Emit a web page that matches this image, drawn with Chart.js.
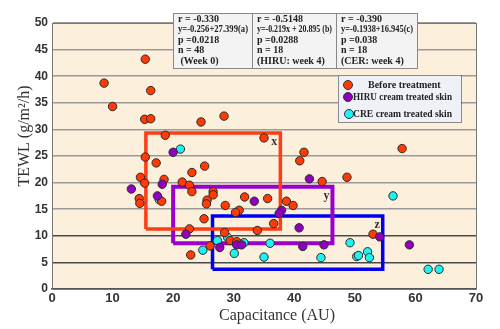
<!DOCTYPE html>
<html>
<head>
<meta charset="utf-8">
<script src="https://cdn.jsdelivr.net/npm/chart.js@4.4.1/dist/chart.umd.min.js"></script>
<style>
  html, body { margin: 0; padding: 0; background: #fff; }
  #wrap { width: 500px; height: 329px; }
</style>
</head>
<body>
<div id="wrap"><canvas id="myChart" width="500" height="329"></canvas></div>
<script>
// Before treatment (week 0)
const beforeX = [15.4, 8.6, 16.3, 10.0, 15.3, 16.3, 24.6, 28.4, 18.7, 35.0, 15.4, 17.2, 25.2, 23.1, 41.6, 40.9, 44.6, 48.7, 57.8, 14.6, 15.3, 18.5, 21.5, 22.7, 23.1, 26.6, 26.6, 14.4, 14.5, 18.1, 25.6, 25.5, 28.6, 31.8, 35.6, 38.7, 39.8, 30.9, 30.3, 25.1, 36.6, 22.7, 33.9, 28.5, 29.4, 30.5, 26.1, 22.9, 53.0];
const beforeY = [43.2, 38.7, 37.3, 34.3, 31.9, 32.0, 31.4, 32.5, 28.9, 28.4, 24.8, 23.7, 23.1, 21.9, 25.7, 24.1, 20.2, 21.0, 26.4, 21.0, 19.9, 20.6, 20.1, 19.5, 18.3, 18.3, 17.7, 17.0, 16.1, 16.5, 16.7, 16.0, 15.7, 17.3, 17.0, 16.5, 15.7, 14.8, 14.4, 13.2, 12.3, 11.3, 11.0, 10.6, 9.1, 8.9, 8.1, 6.4, 10.3];

// HIRU cream, week 4
const hiruX = [20.0, 42.5, 13.1, 18.2, 17.4, 33.4, 37.9, 37.5, 40.8, 22.1, 27.7, 30.5, 31.3, 41.4, 44.9, 54.1, 59.0];
const hiruY = [25.7, 20.7, 18.8, 19.7, 17.5, 16.5, 14.8, 14.2, 11.5, 10.3, 7.8, 8.3, 8.3, 8.0, 8.3, 9.8, 8.3];

// CER cream, week 4
const cerX = [21.2, 17.7, 27.3, 29.0, 31.7, 24.9, 30.1, 36.0, 35.0, 44.4, 56.3, 49.2, 50.3, 50.6, 52.1, 52.4, 62.1, 63.9];
const cerY = [26.3, 16.8, 9.1, 9.7, 8.7, 7.3, 6.7, 8.6, 6.0, 5.9, 17.5, 8.7, 6.1, 6.3, 7.0, 5.9, 3.7, 3.7];

// highlighted regions (x range, y range)
const boxXx = [15.5, 37.7], boxXy = [11.3, 29.3];
const boxYx = [20.0, 46.3], boxYy = [8.6, 19.2];
const boxZx = [26.5, 54.6], boxZy = [3.7, 13.7];
const boxLabels = ['x', 'y', 'z'];

const xTicks = [0, 10, 20, 30, 40, 50, 60, 70];
const yTicks = [0, 5, 10, 15, 20, 25, 30, 35, 40, 45, 50];

const statsCols = [
  ['r = -0.330', 'y=-0.256+27.399(a)', 'p =0.0218', 'n = 48', ' (Week 0)'],
  ['r = -0.5148', 'y=-0.219x + 20.895 (b)', 'p =0.0288', 'n = 18', '(HIRU: week 4)'],
  ['r = -0.390', 'y=-0.1938+16.945(c)', 'p =0.038', 'n = 18', '(CER: week 4)']
];
const legendLabels = ['Before treatment', 'HIRU cream treated skin', 'CRE cream treated skin'];

const RED = '#ff3a05', PURPLE = '#9200bf', CYAN = '#1ef2f2';

const pts = (xs, ys) => xs.map((x, i) => ({ x: x, y: ys[i] }));
const rect = (xr, yr) => [
  { x: xr[0], y: yr[0] }, { x: xr[1], y: yr[0] }, { x: xr[1], y: yr[1] },
  { x: xr[0], y: yr[1] }, { x: xr[0], y: yr[0] }
];

const boxes = [[boxXx, boxXy], [boxYx, boxYy], [boxZx, boxZy]];

const bgPlugin = {
  id: 'bg',
  beforeDraw(chart) {
    const { ctx, chartArea: a } = chart;
    ctx.save();
    ctx.fillStyle = '#fcf0dc';
    ctx.fillRect(a.left, a.top, a.width, a.height);
    ctx.restore();
  }
};

const overlayPlugin = {
  id: 'overlay',
  afterDraw(chart) {
    const { ctx, chartArea: a, scales } = chart;
    ctx.save();
    // frame
    ctx.strokeStyle = '#777';
    ctx.lineWidth = 1;
    ctx.strokeRect(a.left + 0.5, a.top + 0.5, a.width, a.height);

    // box letters
    ctx.fillStyle = '#333';
    ctx.font = 'bold 12px "Liberation Serif"';
    ctx.textAlign = 'right';
    ctx.textBaseline = 'middle';
    boxes.forEach((b, i) => {
      const px = scales.x.getPixelForValue(b[0][1]);
      const py = scales.y.getPixelForValue(b[1][1]);
      ctx.fillText(boxLabels[i], px - 3, py + 9);
    });

    // stats table
    const tl = 173, tt = 13, tr = 417, tb = 68, cols = [173, 252, 336, 417];
    ctx.fillStyle = '#f3f3f3';
    ctx.fillRect(tl, tt, tr - tl, tb - tt);
    ctx.strokeStyle = '#888';
    ctx.lineWidth = 1;
    ctx.strokeRect(tl + 0.5, tt + 0.5, tr - tl, tb - tt);
    ctx.beginPath();
    ctx.moveTo(cols[1] + 0.5, tt); ctx.lineTo(cols[1] + 0.5, tb);
    ctx.moveTo(cols[2] + 0.5, tt); ctx.lineTo(cols[2] + 0.5, tb);
    ctx.stroke();
    ctx.fillStyle = '#222';
    ctx.font = 'bold 10px "Liberation Serif"';
    ctx.textAlign = 'left';
    statsCols.forEach((col, c) => {
      const maxW = cols[c + 1] - cols[c] - 9;
      col.forEach((line, i) => {
        ctx.fillText(line, cols[c] + 5, 19.5 + i * 10.4, Math.min(maxW, ctx.measureText(line).width));
      });
    });

    // legend
    const ll = 338, lt = 75, lr = 461, lb = 122;
    ctx.fillStyle = '#eef1f6';
    ctx.fillRect(ll, lt, lr - ll, lb - lt);
    ctx.setLineDash([1, 1]);
    ctx.strokeStyle = '#223';
    ctx.strokeRect(ll + 0.5, lt + 0.5, lr - ll, lb - lt);
    ctx.setLineDash([]);
    const mk = [[348, 85, RED, 368], [348, 97, PURPLE, 353], [349, 114, CYAN, 353]];
    ctx.font = 'bold 10px "Liberation Serif"';
    mk.forEach((m, i) => {
      ctx.beginPath();
      ctx.arc(m[0], m[1], 4.5, 0, Math.PI * 2);
      ctx.fillStyle = m[2];
      ctx.fill();
      ctx.strokeStyle = '#333';
      ctx.stroke();
      ctx.fillStyle = '#222';
      const w = ctx.measureText(legendLabels[i]).width;
      ctx.fillText(legendLabels[i], m[3], m[1] + 0.5, Math.min(w, 452 - m[3]));
    });

    // axis titles
    ctx.fillStyle = '#333';
    ctx.font = '16px "Liberation Serif"';
    ctx.textAlign = 'center';
    ctx.fillText('Capacitance (AU)', 277, 316);
    ctx.translate(25, 136);
    ctx.rotate(-Math.PI / 2);
    ctx.fillText('TEWL (g/m\u00b2/h)', 0, 0);
    ctx.restore();
  }
};

const pointStyle = (color) => ({
  backgroundColor: color,
  borderColor: '#2a2a2a',
  borderWidth: 1,
  pointRadius: 4.2,
  showLine: false
});

const boxColors = ['#ff3c14', '#9a00cc', '#0000f0'];
const boxWidths = [3.5, 4, 3.5];

const ctx = document.getElementById('myChart');
new Chart(ctx, {
  type: 'scatter',
  data: {
    datasets: [
      Object.assign({ label: 'HIRU cream treated skin', data: pts(hiruX, hiruY), order: 0 }, pointStyle(PURPLE)),
      Object.assign({ label: 'Before treatment', data: pts(beforeX, beforeY), order: 1 }, pointStyle(RED)),
      Object.assign({ label: 'CRE cream treated skin', data: pts(cerX, cerY), order: 2 }, pointStyle(CYAN))
    ].concat(boxes.map((b, i) => ({
      label: 'box ' + boxLabels[i],
      data: rect(b[0], b[1]),
      showLine: true,
      borderColor: boxColors[i],
      borderWidth: boxWidths[i],
      pointRadius: 0,
      fill: false,
      tension: 0,
      order: 3
    })))
  },
  options: {
    responsive: false,
    animation: false,
    layout: { padding: { left: 0, top: 23, right: 24, bottom: 0 } },
    plugins: { legend: { display: false }, tooltip: { enabled: false } },
    scales: {
      x: {
        type: 'linear', min: 0, max: 70,
        afterBuildTicks: s => { s.ticks = xTicks.map(v => ({ value: v })); },
        afterFit: s => { s.height = 40; },
        grid: { display: false, drawTicks: false },
        border: { display: true, color: '#555', width: 1.5 },
        ticks: { padding: 2, color: '#333', font: { family: 'Liberation Sans', size: 13, weight: 'bold' } }
      },
      y: {
        type: 'linear', min: 0, max: 50,
        afterBuildTicks: s => { s.ticks = yTicks.map(v => ({ value: v })); },
        afterFit: s => { s.width = 52; },
        grid: {
          drawTicks: false,
          lineWidth: 1.5,
          color: c => (c.tick && (c.tick.value === 5 || c.tick.value === 10)) ? '#4a4a4a' : '#9a9a9a'
        },
        border: { display: true, color: '#777', width: 1 },
        ticks: { padding: 4, color: '#333', font: { family: 'Liberation Sans', size: 12, weight: 'bold' } }
      }
    }
  },
  plugins: [bgPlugin, overlayPlugin]
});
</script>
</body>
</html>
